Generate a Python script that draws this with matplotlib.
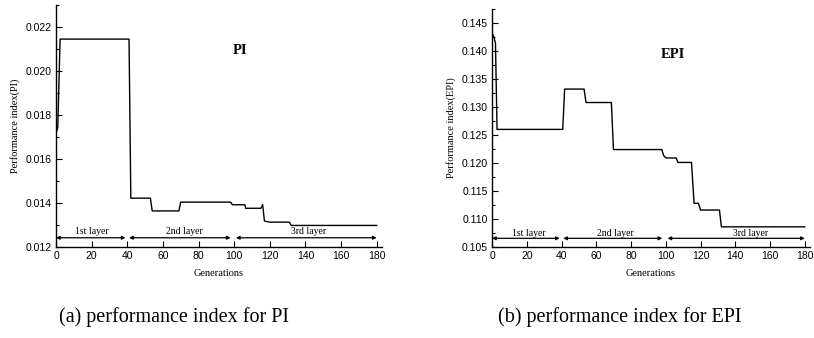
import matplotlib
matplotlib.use("Agg")
import matplotlib.pyplot as plt
from matplotlib.ticker import MultipleLocator, FormatStrFormatter

# Performance index (PI) over generations
pi_gen = [0, 1, 2.3, 41, 42, 53, 54, 69, 70, 98, 99, 106, 106.5, 115, 116, 117,
          120, 131, 132, 180]
pi_val = [0.01715, 0.01745, 0.02145, 0.02145, 0.01422, 0.01422, 0.01364, 0.01364,
          0.01404, 0.01404, 0.01392, 0.01392, 0.01376, 0.01376, 0.01393, 0.01318,
          0.01313, 0.01313, 0.01298, 0.01298]

# Performance index (EPI) over generations
epi_gen = [0, 1, 2, 2.9, 40.7, 41.8, 53, 54.1, 68.7, 69.9, 97.7, 98.8, 100.2, 106,
           107, 114.8, 116.3, 118.8, 120, 130.9, 132, 180]
epi_val = [0.1432, 0.1426, 0.1414, 0.1260, 0.1260, 0.1332, 0.1332, 0.1308, 0.1308,
           0.1224, 0.1224, 0.1213, 0.1209, 0.1209, 0.1201, 0.1201, 0.1128, 0.1128,
           0.1116, 0.1116, 0.1086, 0.1086]

# Layer spans (generation ranges) and their labels
layer_names = ["1st layer", "2nd layer", "3rd layer"]
layer_spans = [(0, 39), (41, 98), (101, 180)]
pi_label_x = [20, 72, 142]
epi_label_x = [21, 71, 149]

x_ticks = [0, 20, 40, 60, 80, 100, 120, 140, 160, 180]
pi_yticks = [0.012, 0.014, 0.016, 0.018, 0.020, 0.022]
epi_yticks = [0.105, 0.110, 0.115, 0.120, 0.125, 0.130, 0.135, 0.140, 0.145]

SERIF = "Liberation Serif"
SANS = "Liberation Sans"

fig = plt.figure(figsize=(8.14, 3.38), dpi=100)
W, H = 814, 338


def make_axes(left, right, top, bottom):
    return fig.add_axes([left / W, 1 - bottom / H, (right - left) / W, (bottom - top) / H])


ax1 = make_axes(56, 382, 5, 247)
ax2 = make_axes(492, 810, 9, 247)


def style(ax, ylim, yticks, ymajor, fmt, ylabel):
    ax.set_xlim(0, 183)
    ax.set_ylim(*ylim)
    ax.set_xticks(x_ticks)
    ax.set_yticks(yticks)
    ax.yaxis.set_minor_locator(MultipleLocator(ymajor / 2))
    ax.yaxis.set_major_formatter(FormatStrFormatter(fmt))
    for s in ("top", "right"):
        ax.spines[s].set_visible(False)
    for s in ("left", "bottom"):
        ax.spines[s].set_linewidth(1.0)
    ax.tick_params(which="major", direction="in", length=4, width=0.8,
                   labelsize=7.5, pad=3)
    ax.tick_params(which="minor", direction="in", length=2.5, width=0.8)
    ax.tick_params(axis="x", which="minor", bottom=False)
    for lab in ax.get_xticklabels() + ax.get_yticklabels():
        lab.set_fontfamily(SANS)
    ax.set_xlabel("Generations", fontfamily=SERIF, fontsize=7.5, labelpad=6)
    ax.set_ylabel(ylabel, fontfamily=SERIF, fontsize=7.5, labelpad=4)


def layers(ax, arrow_y, text_y, label_x):
    for (a, b), name, tx in zip(layer_spans, layer_names, label_x):
        ax.annotate("", xy=(a, arrow_y), xytext=(b, arrow_y),
                    arrowprops=dict(arrowstyle="<|-|>", color="black", lw=0.9,
                                    mutation_scale=5, shrinkA=0, shrinkB=0))
        ax.text(tx, text_y, name, ha="center", va="center", fontfamily=SERIF,
                fontsize=7)


ax1.plot(pi_gen, pi_val, color="black", lw=1.0)
style(ax1, (0.012, 0.0230), pi_yticks, 0.002, "%.3f", "Performance index(PI)")
layers(ax1, 0.01242, 0.01272, pi_label_x)
ax1.text(103.5, 0.02095, "PI", fontfamily=SERIF, fontweight="bold", fontsize=10.5,
         ha="center", va="center")

ax2.plot(epi_gen, epi_val, color="black", lw=1.0)
style(ax2, (0.105, 0.1475), epi_yticks, 0.005, "%.3f", "Performance index(EPI)")
layers(ax2, 0.10655, 0.10739, epi_label_x)
ax2.text(104, 0.1393, "EPI", fontfamily=SERIF, fontweight="bold", fontsize=10.5,
         ha="center", va="center")

fig.text(174 / W, 1 - 317 / H, "(a) performance index for PI", fontfamily=SERIF,
         fontsize=14.5, ha="center", va="center")
fig.text(620 / W, 1 - 317 / H, "(b) performance index for EPI", fontfamily=SERIF,
         fontsize=14.5, ha="center", va="center")

fig.savefig("out.png", dpi=100)
